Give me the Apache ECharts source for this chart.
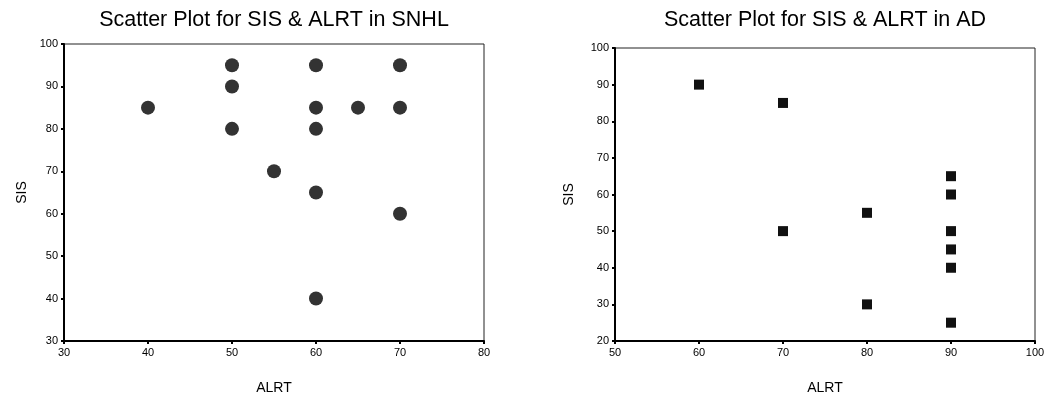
<!DOCTYPE html>
<html>
<head>
<meta charset="utf-8">
<script src="https://cdn.jsdelivr.net/npm/echarts@6/dist/echarts.min.js"></script>
<style>
  html, body { margin: 0; padding: 0; background: #fff; }
  #chart { width: 1050px; height: 400px; }
</style>
</head>
<body>
<div id="chart"></div>
<script>
// SNHL group
const snhlAlrt = [40, 50, 50, 50, 55, 60, 60, 60, 60, 60, 65, 70, 70, 70]
const snhlSis = [85, 95, 90, 80, 70, 95, 85, 80, 65, 40, 85, 95, 85, 60]
// AD group
const adAlrt = [60, 70, 70, 80, 80, 90, 90, 90, 90, 90, 90]
const adSis = [90, 85, 50, 55, 30, 65, 60, 50, 45, 40, 25]

const titles = ['Scatter Plot for SIS & ALRT in SNHL', 'Scatter Plot for SIS & ALRT in AD']
const xRanges = [[30, 80], [50, 100]]
const yRanges = [[30, 100], [20, 100]]

const font = '"Liberation Sans", Arial, sans-serif'
const zip = (xs, ys) => xs.map((x, i) => [x, ys[i]])

const grids = [
  { left: 64, top: 44, width: 420, height: 297 },
  { left: 615, top: 48, width: 420, height: 294 }
]
// distance of the SIS label from each y axis
const sisGap = [35, 39]

function axisBase (i) {
  return {
    gridIndex: i,
    type: 'value',
    interval: 10,
    nameLocation: 'middle',
    nameTextStyle: { fontFamily: font, fontSize: 14, color: '#000' },
    axisLine: { show: true, lineStyle: { color: '#000', width: 2 } },
    axisTick: { show: true, length: 3, lineStyle: { color: '#000', width: 2 } },
    axisLabel: { fontFamily: font, fontSize: 11, color: '#000', margin: 6 },
    splitLine: { show: false }
  }
}

const chart = echarts.init(document.getElementById('chart'))
chart.setOption({
  animation: false,
  title: titles.map((t, i) => ({
    text: t,
    left: grids[i].left + grids[i].width / 2,
    top: 9,
    padding: 0,
    textAlign: 'center',
    textStyle: { fontFamily: font, fontSize: 21.5, fontWeight: 'normal', color: '#000' }
  })),
  grid: grids.map(g => ({
    ...g,
    show: true,
    borderColor: '#222',
    borderWidth: 1,
    backgroundColor: 'transparent'
  })),
  xAxis: [0, 1].map(i => ({
    ...axisBase(i),
    name: 'ALRT',
    nameGap: 40,
    min: xRanges[i][0],
    max: xRanges[i][1]
  })),
  yAxis: [0, 1].map(i => ({
    ...axisBase(i),
    name: 'SIS',
    nameGap: sisGap[i],
    min: yRanges[i][0],
    max: yRanges[i][1]
  })),
  series: [
    {
      type: 'scatter',
      xAxisIndex: 0,
      yAxisIndex: 0,
      symbol: 'circle',
      symbolSize: 14,
      itemStyle: { color: '#333', opacity: 1 },
      data: zip(snhlAlrt, snhlSis)
    },
    {
      type: 'scatter',
      xAxisIndex: 1,
      yAxisIndex: 1,
      symbol: 'rect',
      symbolSize: 10,
      itemStyle: { color: '#111', opacity: 1 },
      data: zip(adAlrt, adSis)
    }
  ]
})
</script>
</body>
</html>
